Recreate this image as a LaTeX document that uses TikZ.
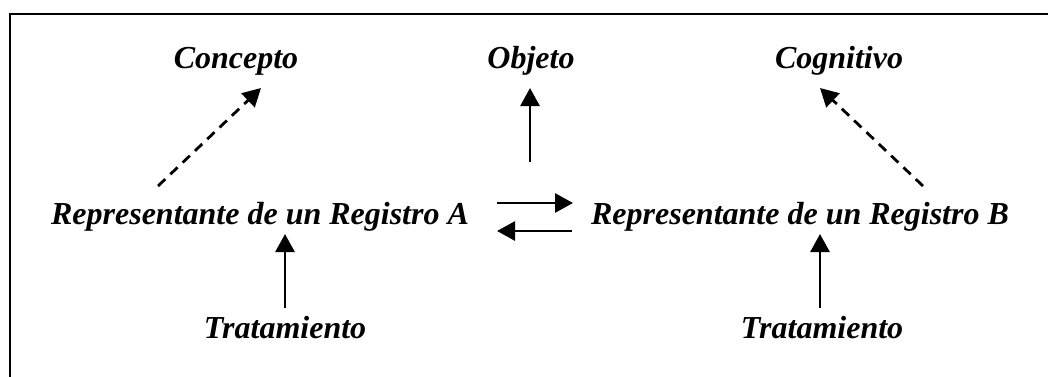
\documentclass[tikz,border=0pt]{standalone}
\usepackage{fontspec}
\setmainfont{Liberation Serif}
\usetikzlibrary{arrows.meta}
\begin{document}
\begin{tikzpicture}[x=1pt,y=-1pt,
  label/.style={font=\fontsize{32}{38}\selectfont\bfseries\itshape, inner sep=0pt, anchor=base},
  link/.style={line width=2.8pt, -{Triangle[length=18pt,width=19pt]}},
  dlink/.style={link, dash pattern=on 10pt off 7pt}]
  \useasboundingbox (0,0) rectangle (1048,376);
  % open frame: only the top and left sides fall inside the page
  \begin{scope}
    \clip (0,0) rectangle (1048,376);
    \draw[line width=2.8pt] (10,14) rectangle (1070,400);
  \end{scope}
  % labels
  \node[label] (concepto) at (236,68) {Concepto};
  \node[label] (objeto) at (531,68) {Objeto};
  \node[label] (cognitivo) at (839,68) {Cognitivo};
  \node[label] (regA) at (260,224) {Representante de un Registro A};
  \node[label] (regB) at (800,224) {Representante de un Registro B};
  \node[label] (tratA) at (285,338) {Tratamiento};
  \node[label] (tratB) at (822,338) {Tratamiento};
  % arrow end points
  \coordinate (cA0) at (158,186);
  \coordinate (cA1) at (261,88);
  \coordinate (o0) at (530,162);
  \coordinate (o1) at (530,88);
  \coordinate (cB0) at (923,186);
  \coordinate (cB1) at (820,88);
  \coordinate (ab0) at (497,203);
  \coordinate (ab1) at (573,203);
  \coordinate (ba0) at (572,231);
  \coordinate (ba1) at (497,231);
  \coordinate (tA0) at (285,308);
  \coordinate (tA1) at (285,234);
  \coordinate (tB0) at (820,308);
  \coordinate (tB1) at (820,234);
  % connectors
  \draw[dlink] (cA0) -- (cA1);
  \draw[link] (o0) -- (o1);
  \draw[dlink] (cB0) -- (cB1);
  \draw[link] (ab0) -- (ab1);
  \draw[link] (ba0) -- (ba1);
  \draw[link] (tA0) -- (tA1);
  \draw[link] (tB0) -- (tB1);
\end{tikzpicture}
\end{document}
